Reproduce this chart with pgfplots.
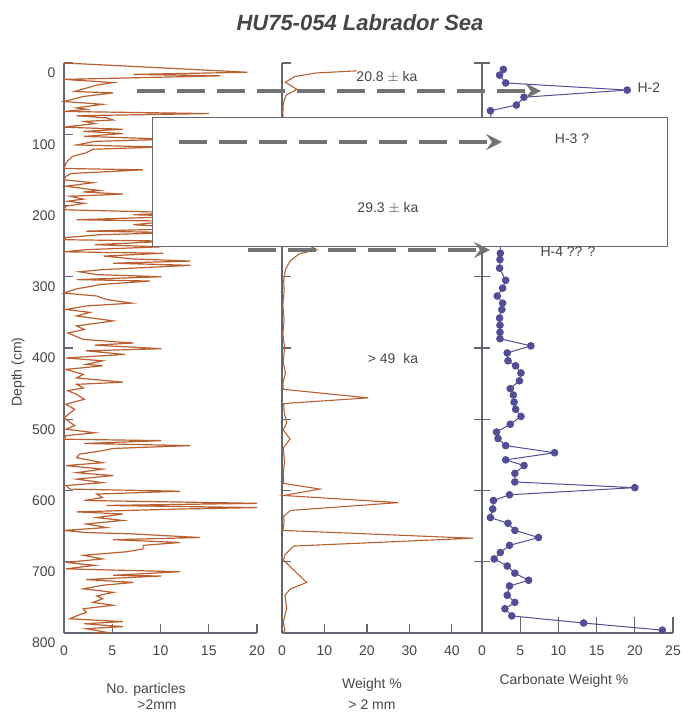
\documentclass[border=0pt]{standalone}
\usepackage{pgfplots}
\pgfplotsset{compat=1.18}
\usepackage{fontspec}
\setmainfont{Liberation Sans}
\usetikzlibrary{arrows.meta}
\definecolor{brn}{RGB}{185,95,48}
\definecolor{blu}{RGB}{82,78,150}
\definecolor{axc}{RGB}{100,100,115}
\definecolor{txt}{RGB}{70,70,70}
\definecolor{arr}{RGB}{115,115,115}
\pgfplotsset{
  panel/.style={
    scale only axis, height=570pt, ymin=0, ymax=800, y dir=reverse,
    axis x line*=bottom, axis y line*=left, clip=false,
    axis line style={draw=axc, line width=1.1pt},
    every tick/.style={draw=axc, line width=1.1pt},
    xtick align=inside, ytick align=inside,
    major tick length=9pt,
    ytick={0,100,...,800},
    /pgf/number format/assume math mode=true,
    tick label style={font=\fontsize{14}{16}\selectfont, text=txt},
    xticklabel style={yshift=-9pt},
    yticklabel style={yshift=-10pt, xshift=-5pt},
  }
}
\begin{document}
\begin{tikzpicture}
\path[use as bounding box] (0pt,0pt) rectangle (685pt,714pt);
% Panel 1
\begin{axis}[panel, at={(64pt,366pt)}, anchor=west, width=193pt, xmin=0, xmax=20, xtick={0,5,10,15,20}]
\addplot[brn, line width=1.2pt] coordinates {
(0,0) (6,4) (19,13) (7.2,16) (16.2,18) (0,23) (5.1,27.5) (3.4,31) (1.1,40) (5.1,42) (2,47) (0,54) (4,58) (1.3,63) (2.3,65) (0,68) (15,71) (1.3,74) (4.4,77) (5.1,80) (2.1,82) (3.2,85) (0,90) (6.1,93) (2,96) (6.1,99) (2.1,103) (11,107) (3.2,110) (1.3,115) (10,118) (3,121) (2.3,126) (0.9,131) (0.4,137) (0.2,141) (0,148) (8.2,150) (0.8,155) (0.2,159) (0,164) (3,168) (0.2,173) (3.7,179) (2,181) (6.1,184) (0.6,187) (2,191) (0.4,194) (2.1,197) (0.2,201) (0,206) (12,210) (7.2,213) (13,215) (1.3,220) (11,222) (7.2,227) (14,232) (2.3,236) (12,238) (3.7,241) (0.2,245) (0,248) (11,250) (3.2,255) (10,258) (2.3,262) (0,265) (10.3,267) (4.1,271) (7.2,275) (13.1,278) (5.1,281) (13.1,284) (4,290) (1.6,293) (3.4,297) (10.1,300) (1.3,304) (8.9,306) (3.7,311) (3,313) (1.3,317) (0,323) (3.4,327) (4.4,332) (7,337) (2.3,341) (0.2,346) (2.7,350) (1.3,355) (5.1,362) (1.3,369) (2.1,374) (0.4,379) (2,388) (7.2,393) (3.2,396) (10.1,401) (2.3,404) (6.3,409) (0.2,414) (4,418) (2.3,423) (4,425) (0.2,430) (2,437) (1.3,442) (6.1,448) (1.3,451) (2,456) (0.4,460) (1.3,465) (2.1,472) (0.2,479) (1.1,486) (0,498) (1.1,509) (0.2,514) (3.2,519) (0.2,523) (0,528) (10.1,530) (2.1,534) (13.1,537) (5.1,541) (4,544) (1.6,549) (1.3,554) (4,561) (0.2,565) (4,570) (1.3,575) (5.1,579) (1.3,584) (4,589) (0.2,593) (0.6,598) (12,601) (3.4,605) (4,610) (2.1,614) (20,618) (4.4,621) (20,624) (12,626) (1.3,630) (6.1,633) (3.4,638) (6.1,642) (2.3,647) (4.4,652) (0,656) (2.3,659) (7.2,661) (14.1,666) (5.1,669) (12,673) (8.2,677) (8.2,682) (6.5,686) (2,691) (4,696) (0.2,701) (3.2,705) (0.2,710) (12,714) (5.1,719) (10.1,720) (2.3,725) (7.2,729) (4,733) (2,738) (5.1,743) (3.4,748) (4,752) (3,757) (5.1,761) (2,766) (2.3,771) (1.3,776) (0.6,780) (6.1,784) (2.1,787) (6.1,791) (2.3,794) (4.4,799) (3,800)
};
\end{axis}
% Panel 2
\begin{axis}[panel, at={(282pt,366pt)}, anchor=west, width=192pt, xmin=0, xmax=45.2, xtick={0,10,20,30,40}, yticklabels={}]
\addplot[brn, line width=1.1pt] coordinates {
(17.7,11) (8,14) (3,19) (0.8,27) (3.5,37) (1,45) (0.3,56) (0.2,70) (0.5,100) (0.4,150) (0.6,200) (1,240) (8.2,262) (4,268) (1.9,278) (0.8,290) (0.4,305) (0.5,320) (0.2,340) (0.5,360) (0.2,380) (0.6,400) (0.3,420) (0.8,435) (0.2,450) (0.3,458) (20.3,470) (0.4,478) (0.5,490) (1.1,505) (0.3,515) (1.9,528) (0.3,540) (0.6,560) (0.3,575) (0.4,590) (8.9,598) (0.4,607) (27.4,617) (2,628) (0.4,636) (0.5,645) (0.2,656) (44.9,667) (2.7,678) (0.7,690) (0.4,698) (5.8,729) (2,738) (0.7,747) (1.1,766) (0.3,785) (0.7,796) (0.2,800)
};
\end{axis}
% Panel 3
\begin{axis}[panel, at={(482pt,366pt)}, anchor=west, width=191pt, xmin=0, xmax=25, xtick={0,5,10,15,20,25}, yticklabels={}, ytick align=center, major tick length=16pt, xtick align=inside]
\addplot[blu, line width=1pt, mark=*, mark size=3.3pt, mark options={fill=blu, draw=blu}] coordinates {
(2.8,9) (2.3,17) (3.1,28) (19.0,38) (5.5,48) (4.5,59) (1.1,67) (1.3,90) (1.8,140) (2.2,190) (2.4,240) (2.4,267) (2.35,276) (2.3,288) (3.1,305) (2.7,316) (2.0,327) (2.7,337) (2.6,346) (2.3,358) (2.35,368) (2.35,378) (2.35,387) (6.4,397) (3.3,407) (3.4,418) (4.4,425) (5.1,435) (4.9,446) (3.7,457) (4.1,466) (4.2,476) (4.4,486) (5.1,496) (3.7,507) (1.9,518) (2.1,527) (3.1,537) (9.5,547) (3.1,557) (5.5,565) (4.3,576) (4.3,588) (20.0,596) (3.6,606) (1.5,614) (1.4,626) (1.1,638) (3.4,646) (4.3,656) (7.4,666) (3.6,677) (2.4,687) (1.6,696) (3.3,706) (4.3,716) (6.1,726) (3.6,734) (3.3,747) (4.3,757) (3.0,766) (3.9,776) (13.3,786) (23.6,796)
};
\end{axis}
% annotations
\draw[fill=white, draw=axc, line width=1pt] (152pt,467pt) rectangle (667pt,596pt);
\begin{scope}[arr, line width=3.5pt, dash pattern=on 28pt off 12pt]
\draw[-{Stealth[length=16pt,width=16pt,inset=6pt]}] (137pt,623pt) -- (541pt,623pt);
\draw[-{Stealth[length=16pt,width=16pt,inset=6pt]}] (179pt,572pt) -- (502pt,572pt);
\draw[-{Stealth[length=16pt,width=16pt,inset=6pt]}] (248pt,464pt) -- (490pt,464pt);
\end{scope}
\begin{scope}[text=txt, font=\fontsize{14}{16}\selectfont]
\node at (387pt,637pt) {20.8 $\pm$ ka};
\node at (388pt,506pt) {29.3 $\pm$ ka};
\node at (393pt,355pt) {> 49\ \ ka};
\node at (572pt,575pt) {H-3 ?};
\node at (568pt,462pt) {H-4 ?? ?};
\node[anchor=west] at (634pt,626pt) {H-2};
\node at (146pt,24pt) {No. particles};
\node at (157pt,9pt) {>2mm};
\node at (372pt,29pt) {Weight \%};
\node at (372pt,9pt) {> 2 mm};
\node at (564pt,33pt) {Carbonate Weight \%};
\node[rotate=90] at (18pt,342pt) {Depth (cm)};
\end{scope}
\node[text=txt, font=\fontsize{22}{26}\selectfont\bfseries\itshape] at (360pt,691pt) {HU75-054 Labrador Sea};
\end{tikzpicture}
\end{document}
